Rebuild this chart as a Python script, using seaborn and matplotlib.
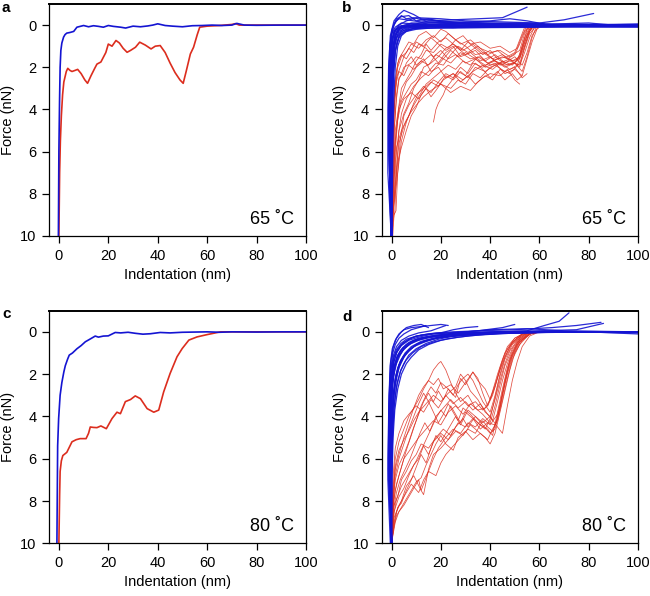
import matplotlib
matplotlib.use("Agg")
import matplotlib.pyplot as plt
import seaborn as sns
import pandas as pd

# ---------------- data ----------------
# panel a (65 C, single curves)
a_blue_x = [-0.2, 0, 0.27, 0.5, 0.8, 1.2, 1.9, 2.5, 3.2, 4.5, 6, 7.3, 9, 10, 12, 14, 16, 18, 20, 22,
            25, 27, 30, 33, 36, 38, 40, 43, 46, 50, 54, 58, 62, 66, 70, 72, 75, 80, 90, 100]
a_blue_y = [10, 6, 3.6, 2.0, 1.2, 0.85, 0.57, 0.45, 0.38, 0.35, 0.3, 0.1, 0.05, 0.02, 0.08, 0.03, 0.06, 0.1, 0.02, 0.06,
            0.1, 0.14, 0.05, 0.08, 0.04, 0.0, -0.06, 0.02, 0.05, 0.08, 0.03, 0.02, 0.0, 0.02, 0.0, -0.08, 0.0, 0.01, 0.0, 0.0]
a_red_x = [0, 0.3, 0.6, 1, 1.5, 2, 3, 3.6, 4.5, 5.3, 6.5, 7.6, 9, 10.5, 11.6, 13, 14.5, 15.4, 17, 19,
           20, 21.5, 23.1, 24.5, 26, 27.6, 29, 31, 32.7, 35, 37.3, 39, 41, 43, 45, 47, 49, 50.3, 51.5, 53.2,
           54.5, 56, 57, 60, 65, 70, 71.5, 73, 80, 100]
a_red_y = [10, 7, 5.5, 4.3, 3.3, 2.7, 2.2, 2.05, 2.15, 2.2, 2.15, 2.1, 2.3, 2.6, 2.76, 2.4, 2.05, 1.85, 1.75, 1.3,
           0.9, 1.0, 0.73, 0.85, 1.1, 1.29, 1.2, 1.05, 0.81, 0.95, 1.13, 1.0, 0.97, 1.3, 1.8, 2.25, 2.6, 2.76, 2.2, 1.37,
           1.05, 0.45, 0.1, 0.05, 0.02, -0.03, -0.07, 0.0, 0.0, 0.0]

# panel c (80 C, single curves)
c_blue_x = [-0.8, -0.5, -0.1, 0.5, 1.2, 2, 2.6, 3.5, 4.2, 5.5, 7.3, 9, 10.7, 12.5, 14.7, 16, 18, 20, 22.8, 25,
            28, 31, 34, 37, 41, 45, 50, 55, 60, 65, 70, 80, 90, 100]
c_blue_y = [10, 5.4, 4.1, 3.0, 2.4, 1.9, 1.6, 1.3, 1.1, 1.0, 0.8, 0.65, 0.47, 0.35, 0.2, 0.25, 0.2, 0.19, 0.03, 0.05,
            0.02, 0.07, 0.11, 0.09, 0.03, 0.05, 0.02, 0.01, 0.0, 0.02, 0.0, 0.01, 0.0, 0.0]
c_red_x = [0, 0.3, 0.5, 1, 1.6, 3.2, 5.3, 7, 8.6, 11, 12, 12.7, 14, 15.4, 17, 19.2, 21.5, 23.5, 24.9, 26.9,
           29, 30.9, 33, 35.7, 38.4, 40.4, 42.4, 45, 47.8, 49.9, 52.6, 55.9, 60, 65.4, 70, 80, 100]
c_red_y = [10, 7.7, 6.6, 6.1, 5.85, 5.7, 5.2, 5.1, 5.05, 5.05, 4.8, 4.5, 4.52, 4.53, 4.45, 4.58, 4.1, 3.8, 3.87, 3.3,
           3.2, 3.03, 3.16, 3.63, 3.8, 3.7, 2.84, 1.97, 1.18, 0.79, 0.39, 0.24, 0.13, 0.0, 0.0, 0.0, 0.0]

# panel b (65 C, all curves) as (indentation, force) points
b_blue_curves = [
    [(0, 10), (-0.5, 6), (-0.6, 3), (-0.3, 1.5), (0.5, 0.6), (2, 0.2), (5, 0.05), (15, 0.0), (30, 0.05), (50, 0.0), (70, 0.02), (100, 0.0)],
    [(-0.2, 10), (-1.0, 6), (-1.2, 3), (-0.8, 1.2), (0, 0.4), (1.5, 0.1), (4, -0.1), (10, -0.05), (25, 0.0), (45, -0.05), (60, 0.0), (100, 0.02)],
    [(0.1, 10), (0.2, 6), (0.4, 3), (1.0, 1.2), (2, 0.6), (4, 0.3), (7, 0.15), (12, 0.1), (20, 0.05), (40, 0.08), (60, 0.02), (100, 0.05)],
    [(-0.1, 10), (-1.5, 7), (-1.5, 4), (-1.2, 2), (-0.5, 0.5), (1, -0.2), (3, -0.5), (5, -0.7), (7, -0.6), (9, -0.5), (12, -0.3), (20, -0.2), (30, -0.1)],
    [(0, 10), (-0.3, 5), (0, 2.5), (0.8, 1.0), (2, 0.4), (4, 0.1), (8, 0.0), (15, -0.2), (25, -0.25), (35, -0.3), (45, -0.35), (55, -0.85)],
    [(0, 10), (-0.8, 5), (-0.6, 2.5), (0, 1.0), (1, 0.3), (3, 0.0), (6, -0.2), (10, -0.35), (20, -0.3), (30, -0.2), (45, -0.15), (60, -0.1), (70, -0.25), (82, -0.55)],
    [(0, 10), (0.3, 5), (0.6, 2.5), (1.5, 1.2), (3, 0.6), (5, 0.35), (8, 0.2), (15, 0.1), (30, 0.1), (50, 0.1), (80, 0.05), (100, 0.05)],
    [(-0.3, 10), (-0.9, 6), (-0.5, 2), (0.3, 0.6), (1.5, 0.2), (4, 0.05), (10, 0.1), (20, -0.05), (35, 0.05), (55, 0.0), (75, 0.0), (100, -0.05)],
    [(0, 10), (-0.2, 7), (0.2, 4), (0.8, 2.2), (1.6, 1.2), (3, 0.5), (5, 0.25), (10, 0.15), (20, 0.15), (40, 0.12), (70, 0.1), (100, 0.1)],
    [(-0.2, 10), (-1.2, 5), (-1.0, 2), (-0.4, 0.8), (0.5, 0.1), (2, -0.3), (4, -0.4), (7, -0.45), (10, -0.2), (15, -0.3), (22, -0.1), (40, -0.2), (48, -0.3), (55, -0.2), (62, -0.05)],
    [(0, 10), (-0.4, 6), (-0.1, 3), (0.5, 1.5), (1.5, 0.7), (3, 0.3), (6, 0.1), (12, 0.05), (25, 0.12), (45, 0.0), (70, 0.05), (100, 0.08)],
    [(0, 10), (-0.6, 5), (-0.4, 2), (0.3, 0.8), (1.2, 0.3), (3, 0.1), (8, -0.1), (18, -0.1), (30, -0.05), (50, -0.1), (65, -0.05), (80, -0.1), (90, 0.0)],
    [(0.2, 10), (0.5, 6), (0.9, 3.5), (1.5, 2), (2.5, 1.0), (4, 0.5), (6, 0.3), (10, 0.2), (20, 0.1), (50, 0.05), (100, 0.0)],
    [(0, 10), (-0.9, 4), (-0.7, 1.5), (0, 0.5), (1, 0.0), (2, -0.2), (4, -0.45), (6, -0.3), (9, -0.35), (14, -0.2), (25, -0.15), (40, -0.1), (60, -0.05), (100, -0.02)],
    [(0, 10), (-0.4, 4), (0.2, 1.6), (1.2, 0.6), (2.5, 0.25), (5, 0.1), (10, 0.0), (30, -0.08), (60, 0.03), (100, 0.0)],
    [(-0.1, 10), (-0.7, 5), (-0.3, 2.8), (0.4, 1.3), (1.5, 0.5), (3, 0.2), (6, 0.05), (15, -0.1), (35, -0.1), (55, 0.0), (100, 0.03)],
    [(0, 10), (-0.3, 6), (-0.2, 3), (0.3, 1.2), (1.2, 0.5), (2.5, 0.2), (5, 0.1), (12, 0.08), (25, 0.02), (45, 0.06), (70, 0.0), (100, 0.04)],
    [(-0.1, 10), (-0.6, 7), (-0.8, 3.5), (-0.5, 1.6), (0.2, 0.7), (1, 0.3), (3, 0.05), (8, -0.05), (20, 0.03), (40, -0.03), (65, 0.02), (100, -0.01)],
    [(0, 10), (0.1, 7), (0.3, 4.5), (0.7, 2.5), (1.3, 1.4), (2.2, 0.8), (3.5, 0.45), (6, 0.25), (10, 0.12), (18, 0.06), (35, 0.1), (60, 0.05), (100, 0.06)],
    [(0, 10), (-1.1, 6), (-1.1, 3), (-0.7, 1.0), (0.2, 0.2), (1.5, -0.15), (3, -0.3), (6, -0.25), (12, -0.15), (25, -0.1), (50, -0.05), (80, 0.0), (100, -0.04)],
    [(0, 10), (-0.2, 6), (0.1, 3.2), (0.6, 1.8), (1.4, 0.9), (2.6, 0.45), (4.5, 0.2), (8, 0.1), (16, 0.0), (30, 0.04), (55, 0.02), (100, 0.02)],
    [(0, 10), (-0.5, 7), (-0.4, 4), (0, 2.2), (0.7, 1.1), (1.8, 0.45), (3.5, 0.15), (7, 0.0), (14, 0.05), (28, -0.05), (50, 0.05), (75, -0.02), (100, 0.01)],
]
b_red_curves = [
    [(0, 10), (0.5, 7), (1, 5), (2, 3.5), (3, 2.6), (5, 2.0), (8, 1.8), (10, 1.5), (12, 1.6), (14, 1.2), (17, 1.3), (20, 0.9), (23, 1.1), (26, 0.7), (30, 1.0), (34, 1.4), (38, 1.3), (42, 1.7), (46, 1.9), (50, 1.8), (52, 1.4), (54, 0.6), (56, 0.1), (60, 0.0)],
    [(0, 10), (0.8, 8), (1.5, 6), (2.5, 4.5), (4, 3.6), (6, 3.2), (8, 2.8), (10, 2.6), (12, 2.2), (15, 2.4), (18, 2.0), (21, 1.6), (24, 1.8), (28, 1.3), (32, 1.6), (36, 1.5), (40, 1.9), (44, 1.8), (48, 2.1), (51, 1.9), (53, 1.2), (55, 0.5), (57, 0.1), (62, 0.0)],
    [(0, 10), (0.4, 6), (1, 3.5), (2, 2.2), (3, 1.6), (5, 1.2), (7, 0.8), (9, 0.9), (11, 0.5), (14, 0.3), (17, 0.6), (20, 0.2), (22, 0.3), (25, 0.6), (28, 0.9), (32, 0.7), (36, 1.1), (40, 1.3), (44, 1.2), (48, 1.5), (52, 1.2), (54, 0.4), (56, 0.0)],
    [(0, 10), (1, 9), (1.8, 8.8), (2.5, 7), (3.5, 5.5), (5, 4.3), (7, 3.8), (10, 3.3), (13, 3.0), (16, 2.7), (19, 2.9), (22, 2.4), (25, 2.6), (28, 2.2), (31, 2.5), (34, 2.0), (38, 2.2), (42, 1.9), (46, 2.2), (50, 2.0), (53, 2.5), (55, 2.3)],
    [(0, 10), (0.6, 7.5), (1.5, 5.5), (3, 4), (5, 3.5), (8, 3.2), (11, 3.5), (14, 3.0), (17, 2.6), (20, 2.8), (24, 3.0), (27, 2.6), (30, 2.8), (33, 2.3), (36, 2.5), (40, 2.0), (44, 1.8), (48, 1.6), (52, 2.0), (54, 1.0), (56, 0.3), (58, 0.0)],
    [(17, 4.6), (18, 4.0), (19, 3.7), (21, 3.3), (22, 3.0), (24, 2.7), (27, 2.2), (30, 2.4), (33, 1.8), (37, 2.0), (41, 1.7), (45, 1.5), (49, 1.7), (52, 1.5), (54, 0.8), (56, 0.2), (59, 0.0)],
    [(0, 10), (0.3, 8), (0.7, 5), (1.2, 3.5), (2, 2.5), (3.5, 2.0), (5, 1.5), (7, 1.1), (9, 1.3), (11, 0.9), (14, 1.1), (17, 1.5), (20, 1.2), (23, 1.6), (26, 1.4), (30, 1.8), (34, 1.6), (38, 1.9), (42, 1.7), (46, 2.0), (50, 1.8), (53, 2.2), (55, 1.5), (57, 0.6), (59, 0.0)],
    [(0, 10), (1, 8), (2, 6), (3, 5), (5, 4.2), (7, 3.7), (9, 3.0), (11, 2.6), (13, 2.0), (16, 1.8), (19, 1.5), (22, 1.1), (25, 0.9), (28, 1.2), (31, 0.8), (34, 1.1), (37, 1.4), (40, 1.2), (43, 1.6), (47, 1.5), (50, 1.3), (52, 0.7), (54, 0.1), (57, 0.0)],
    [(0, 10), (0.5, 7), (1.2, 4.8), (2, 3.3), (3, 2.5), (4.5, 2.3), (6, 1.8), (8, 1.5), (10, 1.9), (13, 1.6), (16, 2.2), (19, 2.0), (22, 2.5), (25, 2.3), (28, 2.7), (31, 2.4), (34, 2.8), (37, 2.5), (40, 2.3), (44, 2.4), (47, 2.1), (50, 2.6), (52, 2.8)],
    [(0, 10), (0.7, 7), (1.5, 5), (3, 3.8), (4, 3.0), (6, 2.6), (8, 2.2), (10, 1.7), (12, 1.4), (14, 0.9), (16, 1.2), (19, 0.8), (22, 0.6), (25, 0.9), (29, 1.2), (33, 0.9), (37, 1.3), (41, 1.6), (45, 1.4), (49, 1.7), (52, 1.6), (54, 1.0), (56, 0.3), (58, 0.0)],
    [(0, 10), (1, 8.5), (2, 7.5), (3, 6.5), (4, 5.5), (6, 4.6), (8, 4.0), (10, 3.6), (12, 3.2), (14, 2.8), (17, 2.5), (20, 2.2), (23, 1.9), (26, 2.1), (29, 1.7), (32, 1.9), (35, 1.5), (39, 1.8), (43, 1.6), (47, 1.9), (51, 1.7), (53, 1.0), (55, 0.2), (58, 0.0)],
    [(0, 10), (0.5, 6.5), (1, 4), (2, 2.7), (3, 2.2), (5, 2.4), (7, 1.9), (9, 2.1), (12, 1.7), (15, 1.9), (18, 1.4), (21, 1.6), (24, 1.2), (27, 1.5), (30, 1.3), (34, 1.6), (38, 2.0), (42, 1.8), (46, 2.3), (50, 2.1), (53, 2.4), (55, 1.6), (57, 0.8), (59, 0.2), (61, 0.0)],
    [(0, 10), (0.8, 7.5), (2, 5.8), (4, 5.0), (6, 4.5), (8, 4.1), (10, 3.8), (13, 3.4), (16, 3.1), (20, 2.8), (24, 3.2), (28, 2.9), (32, 3.1), (35, 2.7), (38, 2.4), (41, 2.6), (44, 2.1), (48, 2.3), (52, 1.8), (54, 1.1), (56, 0.4), (59, 0.0)],
    [(0.5, 10), (1, 9), (1.3, 8.9), (2, 7), (3, 5), (4, 4.2), (6, 3.5), (9, 2.9), (12, 2.5), (15, 2.2), (18, 1.8), (21, 1.9), (24, 1.4), (27, 1.0), (31, 1.3), (35, 1.0), (39, 1.4), (43, 1.2), (47, 1.6), (50, 1.4), (52, 0.9), (54, 0.3), (56, 0.0)],
    [(0, 10), (0.4, 7), (0.9, 4.5), (1.6, 3), (2.5, 2.0), (4, 1.5), (6, 1.3), (8, 0.9), (11, 1.1), (14, 0.7), (17, 0.5), (20, 0.8), (23, 0.4), (26, 0.7), (29, 0.5), (32, 0.9), (36, 0.8), (40, 1.1), (44, 1.0), (48, 1.3), (51, 1.1), (53, 0.5), (55, 0.0)],
    [(0, 10), (1.2, 8), (2.5, 6.5), (4, 5.8), (6, 5.0), (8, 4.3), (10, 3.9), (12, 3.3), (14, 3.0), (16, 3.4), (18, 3.1), (21, 2.6), (25, 2.3), (29, 2.6), (33, 2.2), (37, 1.9), (41, 2.1), (45, 1.7), (49, 1.9), (52, 1.5), (54, 0.7), (56, 0.2), (58, 0.0)],
    [(0, 10), (0.6, 8), (1.2, 6.2), (2, 4.8), (3, 3.9), (4.5, 3.2), (6, 2.7), (8, 2.4), (10, 2.0), (13, 1.7), (16, 1.4), (19, 1.8), (22, 1.3), (26, 1.0), (30, 1.4), (34, 1.2), (38, 1.7), (42, 1.4), (46, 1.8), (50, 1.5), (53, 1.9), (55, 1.3), (57, 0.5), (60, 0.0)],
    [(0, 10), (0.9, 8.5), (1.8, 7), (3, 5.6), (5, 4.8), (7, 4.3), (9, 3.7), (11, 3.2), (13, 2.9), (16, 3.2), (19, 2.7), (22, 2.3), (25, 2.5), (28, 2.0), (31, 2.3), (34, 1.8), (37, 2.1), (40, 2.5), (43, 2.2), (46, 2.6), (49, 2.3), (51, 2.6), (53, 2.4)],
    [(0, 10), (0.3, 6), (0.8, 3.8), (1.5, 2.6), (2.5, 1.8), (4, 1.4), (6, 1.6), (8, 1.2), (10, 0.8), (13, 1.0), (16, 0.6), (19, 0.9), (22, 1.2), (25, 1.0), (28, 1.5), (32, 1.3), (36, 1.7), (40, 1.5), (44, 1.9), (48, 1.7), (52, 1.9), (54, 1.3), (56, 0.6), (58, 0.1), (61, 0.0)],
]

# panel d (80 C, all curves)
d_blue_curves = [
    [(-0.5, 10), (-1.5, 7), (-1.2, 4), (-0.5, 2), (0.5, 1.0), (1.5, 0.6), (3, 0.3), (5, 0.1), (8, -0.1), (11, -0.2), (14, -0.3)],
    [(0, 10), (-1.0, 7), (-0.8, 4), (0, 2.2), (1, 1.4), (2, 1.0), (4, 0.6), (7, 0.35), (10, 0.2), (15, 0.1), (20, 0.05), (25, -0.1), (30, -0.2), (35, -0.25)],
    [(0, 10), (-0.7, 7), (-0.5, 4.5), (0.2, 2.8), (1, 2.0), (2, 1.5), (3.5, 1.1), (5, 0.8), (8, 0.5), (12, 0.3), (18, 0.15), (25, 0.1), (35, 0.05), (50, 0.0), (70, 0.0), (100, 0.0)],
    [(0, 10), (-0.3, 7), (0, 5), (0.6, 3.5), (1.5, 2.5), (3, 1.7), (5, 1.2), (7, 0.9), (10, 0.6), (14, 0.4), (20, 0.25), (30, 0.15), (45, 0.05), (60, 0.0), (100, 0.0)],
    [(0, 10), (-1.2, 6), (-0.9, 3.5), (-0.2, 1.8), (0.8, 1.1), (2, 0.7), (4, 0.4), (7, 0.2), (11, 0.05), (16, -0.05), (22, -0.3)],
    [(0, 10), (0, 7), (0.4, 5), (1, 3.6), (2, 2.6), (3.5, 1.9), (5, 1.5), (7, 1.1), (10, 0.8), (14, 0.55), (19, 0.35), (25, 0.2), (35, 0.1), (50, 0.05), (65, 0.0), (100, 0.0)],
    [(0, 10), (-0.5, 6), (-0.2, 3.8), (0.5, 2.3), (1.5, 1.6), (3, 1.1), (5, 0.8), (8, 0.55), (12, 0.35), (18, 0.2), (26, 0.05), (35, -0.05), (45, -0.2), (50, -0.35)],
    [(0, 10), (-0.8, 6.5), (-0.6, 4), (0, 2.6), (0.8, 1.8), (2, 1.3), (3.5, 0.9), (6, 0.6), (9, 0.4), (14, 0.25), (20, 0.15), (30, 0.05), (40, 0.0), (55, -0.05), (62, -0.3), (68, -0.5), (72, -0.9)],
    [(0, 10), (-0.2, 6.5), (0.2, 4.2), (0.9, 3.0), (2, 2.1), (3.5, 1.5), (5.5, 1.1), (8, 0.8), (11, 0.55), (15, 0.4), (20, 0.25), (28, 0.15), (40, 0.08), (55, 0.02), (75, 0.0), (100, 0.0)],
    [(0, 10), (-0.9, 6), (-0.7, 3.5), (-0.1, 2.0), (1, 1.2), (2.5, 0.8), (5, 0.5), (8, 0.3), (12, 0.15), (18, 0.05), (25, 0.0), (35, -0.05), (50, -0.1), (65, -0.2), (75, -0.3), (85, -0.45)],
    [(0, 10), (-0.4, 7), (-0.1, 4.8), (0.5, 3.2), (1.3, 2.3), (2.5, 1.7), (4, 1.3), (6, 1.0), (9, 0.7), (13, 0.5), (18, 0.3), (25, 0.2), (35, 0.1), (50, 0.05), (70, 0.02), (100, 0.0)],
    [(0, 10), (-1.3, 6), (-1.0, 3), (-0.3, 1.4), (0.7, 0.7), (2, 0.3), (4, 0.0), (6, -0.2), (9, -0.3), (12, -0.35), (15, -0.2)],
    [(0, 10), (0.2, 7), (0.6, 5), (1.3, 3.7), (2.5, 2.7), (4, 2.0), (6, 1.5), (8, 1.2), (11, 0.85), (15, 0.6), (20, 0.4), (27, 0.25), (38, 0.12), (52, 0.05), (70, 0.0), (100, 0.05)],
    [(0, 10), (-0.6, 6.5), (-0.4, 4.2), (0.3, 2.5), (1.2, 1.6), (2.5, 1.1), (4.5, 0.75), (7, 0.5), (11, 0.3), (16, 0.2), (24, 0.1), (34, 0.05), (45, 0.0), (60, -0.05), (75, -0.1), (86, -0.4)],
    [(0, 10), (-0.1, 6), (0.3, 4), (1, 2.8), (2, 2.0), (3.5, 1.4), (5.5, 1.0), (8, 0.7), (12, 0.45), (17, 0.3), (24, 0.15), (33, 0.08), (45, 0.03), (60, 0.0), (80, 0.0), (100, 0.1)],
    [(0, 10), (-0.8, 5.5), (-0.5, 3.2), (0.2, 2.0), (1, 1.4), (2.2, 0.95), (4, 0.65), (7, 0.4), (11, 0.25), (17, 0.1), (25, 0.05), (40, -0.1), (55, -0.15), (70, -0.05), (100, 0.0)],
    [(0, 10), (-0.6, 6), (-0.3, 3.9), (0.4, 2.4), (1.3, 1.7), (2.7, 1.2), (4.5, 0.9), (7, 0.6), (10, 0.42), (15, 0.28), (22, 0.17), (32, 0.08), (45, 0.03), (65, 0.0), (100, 0.02)],
    [(0, 10), (-0.3, 6.5), (0.0, 4.3), (0.7, 2.9), (1.7, 2.1), (3, 1.55), (4.8, 1.15), (7, 0.85), (10, 0.6), (14, 0.42), (20, 0.27), (30, 0.14), (45, 0.06), (65, 0.02), (100, 0.0)],
    [(0, 10), (-1.0, 6), (-0.8, 3.6), (-0.2, 2.1), (0.7, 1.3), (1.9, 0.85), (3.8, 0.55), (6, 0.35), (10, 0.2), (16, 0.1), (25, 0.03), (40, 0.0), (60, -0.03), (100, 0.0)],
    [(0, 10), (0.1, 6.5), (0.5, 4.5), (1.2, 3.3), (2.3, 2.4), (3.8, 1.8), (5.8, 1.35), (8.5, 1.0), (12, 0.7), (17, 0.48), (23, 0.32), (32, 0.18), (45, 0.08), (60, 0.03), (80, 0.0), (100, 0.0)],
    [(0, 10), (-0.7, 6.2), (-0.5, 4), (0.1, 2.5), (0.9, 1.7), (2.1, 1.2), (4, 0.85), (6.5, 0.6), (10, 0.38), (15, 0.24), (22, 0.14), (32, 0.07), (48, 0.02), (70, 0.0), (100, 0.0)],
    [(0, 10), (-1.4, 6.5), (-1.1, 3.4), (-0.6, 1.6), (0.3, 0.8), (1.5, 0.4), (3, 0.1), (5, -0.1), (8, -0.2), (12, -0.25), (16, -0.3), (20, -0.35), (23, -0.3)],
]
d_red_curves = [
    [(0, 10), (0.5, 8.5), (1.5, 7.5), (3, 6.8), (5, 6.0), (8, 5.5), (11, 5.0), (14, 4.6), (17, 4.2), (20, 4.4), (23, 3.8), (26, 3.5), (29, 3.9), (32, 3.4), (35, 3.7), (38, 3.6), (40, 3.2), (42, 2.5), (44, 1.8), (46, 1.2), (48, 0.7), (51, 0.3), (55, 0.05), (60, 0.0)],
    [(0, 10), (1, 8.2), (2.5, 7.8), (4, 7.0), (6, 6.6), (8, 6.1), (10, 5.8), (12, 5.3), (15, 5.5), (18, 5.0), (21, 4.6), (24, 4.9), (27, 4.3), (30, 4.5), (33, 4.1), (36, 4.4), (39, 4.6), (41, 4.9), (43, 3.8), (45, 2.7), (47, 1.7), (49, 1.0), (52, 0.4), (56, 0.1), (60, 0.0)],
    [(0, 10), (0.5, 7.5), (1.5, 6), (3, 5.2), (5, 4.6), (7, 4.0), (9, 3.6), (11, 3.2), (13, 2.7), (15, 2.3), (17, 1.8), (19, 1.5), (20, 1.4), (22, 1.8), (24, 2.4), (26, 2.9), (28, 3.3), (31, 3.0), (34, 3.6), (37, 3.9), (40, 4.3), (42, 3.5), (44, 2.5), (46, 1.6), (49, 0.8), (52, 0.3), (56, 0.0)],
    [(0, 10), (1, 8.8), (3, 8.2), (5, 7.8), (8, 7.2), (11, 7.6), (13, 7.0), (15, 6.6), (18, 6.8), (20, 6.2), (22, 5.8), (25, 5.4), (28, 5.0), (31, 4.6), (34, 4.8), (37, 4.2), (39, 4.5), (41, 4.7), (43, 4.1), (45, 3.0), (47, 2.0), (49, 1.2), (52, 0.5), (56, 0.1), (60, 0.0)],
    [(0, 10), (0.8, 8), (2, 7.2), (4, 6.4), (6, 5.6), (8, 4.9), (10, 4.2), (12, 3.5), (14, 3.0), (16, 2.6), (18, 2.9), (20, 2.4), (23, 2.7), (26, 3.1), (28, 2.2), (30, 2.5), (33, 1.9), (35, 2.3), (38, 2.7), (40, 3.2), (42, 2.6), (44, 1.7), (46, 1.0), (49, 0.5), (53, 0.1), (57, 0.0)],
    [(0, 10), (1, 9), (2, 8.5), (4, 8.0), (6, 7.3), (9, 6.8), (12, 7.5), (13, 7.7), (15, 6.5), (17, 5.8), (20, 5.5), (23, 5.1), (26, 4.7), (29, 4.9), (32, 4.4), (35, 4.7), (38, 5.0), (40, 5.3), (42, 4.8), (44, 3.8), (46, 2.8), (48, 1.8), (50, 1.0), (53, 0.4), (57, 0.05), (62, 0.0)],
    [(0, 10), (0.5, 7), (1.5, 5.5), (3, 4.8), (5, 4.2), (7, 3.9), (10, 3.5), (13, 3.8), (16, 3.2), (19, 3.6), (22, 3.0), (25, 3.4), (28, 3.1), (31, 3.5), (34, 3.3), (37, 3.7), (39, 3.5), (41, 2.8), (43, 2.0), (45, 1.3), (47, 0.7), (50, 0.3), (54, 0.05), (58, 0.0)],
    [(0, 10), (1, 8.6), (2, 7.9), (4, 7.3), (6, 6.9), (8, 6.5), (10, 6.1), (12, 5.6), (14, 5.1), (16, 4.6), (18, 4.1), (20, 3.7), (22, 4.0), (24, 3.5), (26, 3.9), (28, 4.3), (30, 3.8), (33, 4.1), (36, 4.6), (39, 4.3), (42, 4.4), (44, 3.6), (46, 2.4), (48, 1.4), (51, 0.6), (55, 0.15), (60, 0.0)],
    [(0, 10), (0.7, 8), (1.5, 7), (3, 6.3), (5, 5.8), (7, 5.2), (9, 4.5), (11, 3.9), (13, 3.3), (15, 2.9), (17, 3.3), (19, 2.8), (21, 3.2), (23, 2.7), (25, 3.0), (27, 2.5), (29, 2.2), (31, 2.0), (33, 2.3), (35, 2.8), (37, 3.3), (40, 3.8), (42, 3.0), (44, 2.0), (46, 1.2), (49, 0.5), (53, 0.1), (58, 0.0)],
    [(0, 10), (1.2, 9), (2.5, 8.3), (4, 8.1), (6, 7.5), (8, 7.0), (10, 6.4), (12, 5.8), (14, 6.2), (16, 5.5), (18, 4.9), (20, 5.2), (23, 4.6), (26, 4.0), (28, 4.4), (31, 3.7), (34, 4.0), (37, 4.4), (40, 4.8), (42, 4.6), (44, 3.5), (46, 2.3), (48, 1.3), (51, 0.5), (55, 0.1), (60, 0.0)],
    [(0, 10), (0.5, 8.2), (1.5, 6.8), (3, 6.0), (5, 5.3), (7, 4.6), (9, 4.0), (11, 3.4), (13, 2.9), (15, 3.3), (17, 3.8), (19, 4.3), (21, 3.9), (23, 3.4), (25, 3.8), (27, 4.2), (29, 3.6), (32, 3.9), (35, 4.3), (38, 4.6), (40, 4.1), (42, 3.1), (44, 2.1), (46, 1.3), (49, 0.6), (53, 0.15), (57, 0.0)],
    [(0, 10), (1, 8.5), (3, 7.8), (5, 7.4), (7, 6.8), (9, 6.3), (11, 6.0), (13, 5.4), (15, 5.8), (17, 5.2), (20, 4.8), (23, 5.1), (26, 4.5), (29, 4.1), (31, 4.5), (34, 4.0), (37, 4.3), (40, 4.0), (43, 4.5), (45, 4.8), (47, 3.5), (49, 2.3), (51, 1.4), (53, 0.7), (56, 0.2), (60, 0.0)],
    [(0, 10), (0.6, 7.8), (1.5, 6.5), (3, 5.8), (5, 5.0), (7, 4.3), (9, 3.6), (11, 3.0), (13, 2.6), (15, 2.3), (17, 2.5), (19, 2.2), (21, 2.7), (24, 2.5), (27, 2.9), (30, 2.4), (33, 1.9), (35, 2.2), (37, 2.9), (39, 3.5), (41, 3.0), (43, 2.2), (45, 1.4), (47, 0.8), (50, 0.3), (54, 0.05), (58, 0.0)],
    [(0, 10), (1, 9.2), (2, 8.7), (4, 8.3), (6, 7.9), (8, 7.5), (10, 7.1), (12, 6.9), (14, 6.3), (16, 5.8), (18, 5.3), (20, 4.9), (22, 5.3), (25, 5.6), (27, 5.0), (30, 4.7), (33, 5.1), (36, 4.8), (39, 5.1), (41, 4.6), (43, 4.2), (45, 3.2), (47, 2.2), (49, 1.3), (52, 0.6), (56, 0.1), (60, 0.0)],
    [(0, 10), (0.8, 8.4), (2, 7.6), (3.5, 7.0), (5.5, 6.5), (7.5, 6.0), (9.5, 5.4), (11.5, 4.8), (13.5, 4.3), (15.5, 4.7), (18, 4.0), (21, 3.6), (24, 3.2), (27, 3.6), (30, 3.3), (33, 3.7), (36, 3.4), (39, 3.9), (41, 4.2), (43, 3.3), (45, 2.3), (47, 1.5), (49, 0.9), (52, 0.35), (56, 0.05), (60, 0.0)],
    [(0, 10), (1.5, 9.0), (3, 8.5), (5, 8.2), (7, 7.8), (9, 7.4), (11, 7.0), (12, 7.5), (13, 7.2), (15, 6.6), (17, 6.0), (19, 5.5), (22, 5.0), (25, 4.6), (28, 4.8), (31, 4.3), (34, 4.5), (37, 4.1), (40, 4.4), (43, 3.9), (45, 2.9), (47, 1.9), (49, 1.1), (52, 0.45), (56, 0.1), (60, 0.0)],
    [(0, 10), (0.6, 7.6), (1.6, 6.3), (3, 5.6), (5, 5.1), (7, 4.7), (9, 4.2), (11, 3.8), (14, 3.4), (17, 3.0), (20, 3.3), (23, 2.9), (26, 2.6), (28, 2.0), (30, 2.3), (32, 2.8), (35, 3.2), (38, 3.8), (40, 4.0), (42, 3.2), (44, 2.3), (46, 1.5), (48, 0.9), (51, 0.4), (55, 0.05), (59, 0.0)],
]

panel_letters = ["a", "b", "c", "d"]
temps = ["65 \u02daC", "65 \u02daC", "80 \u02daC", "80 \u02daC"]
x_ticks = [0, 20, 40, 60, 80, 100]
y_ticks = [0, 2, 4, 6, 8, 10]

BLUE = "#1414d2"
RED = "#dc2d1e"

# ---------------- plotting ----------------
sns.set_style("ticks")
plt.rcParams["font.family"] = ["Liberation Sans", "DejaVu Sans"]
plt.rcParams["text.color"] = "black"
plt.rcParams["axes.labelcolor"] = "black"
plt.rcParams["xtick.color"] = "black"
plt.rcParams["ytick.color"] = "black"


def single_df(x, y):
    return pd.DataFrame({"x": x, "y": y})


def multi_df(curves):
    rows = []
    for i, c in enumerate(curves):
        for (xx, yy) in c:
            rows.append((i, xx, yy))
    return pd.DataFrame(rows, columns=["curve", "x", "y"])


fig = plt.figure(figsize=(6.5, 5.96), dpi=100)
W, H = 650.0, 596.0
boxes = [(49, 4, 306, 236), (381.7, 4, 638, 236), (49, 310.7, 306, 543.3), (381.7, 310.7, 638, 543.3)]
axes = []
for (l, t, r, b) in boxes:
    axes.append(fig.add_axes([l / W, 1 - b / H, (r - l) / W, (b - t) / H]))

# a
sns.lineplot(data=single_df(a_red_x, a_red_y), x="x", y="y", sort=False, estimator=None,
             color=RED, lw=1.2, ax=axes[0])
sns.lineplot(data=single_df(a_blue_x, a_blue_y), x="x", y="y", sort=False, estimator=None,
             color=BLUE, lw=1.2, ax=axes[0])
# c
sns.lineplot(data=single_df(c_red_x, c_red_y), x="x", y="y", sort=False, estimator=None,
             color=RED, lw=1.2, ax=axes[2])
sns.lineplot(data=single_df(c_blue_x, c_blue_y), x="x", y="y", sort=False, estimator=None,
             color=BLUE, lw=1.2, ax=axes[2])
# b
sns.lineplot(data=multi_df(b_red_curves), x="x", y="y", units="curve", estimator=None, sort=False,
             color=RED, lw=0.55, alpha=0.85, ax=axes[1])
sns.lineplot(data=multi_df(b_blue_curves), x="x", y="y", units="curve", estimator=None, sort=False,
             color=BLUE, lw=0.9, alpha=0.9, ax=axes[1])
# d
sns.lineplot(data=multi_df(d_red_curves), x="x", y="y", units="curve", estimator=None, sort=False,
             color=RED, lw=0.55, alpha=0.85, ax=axes[3])
sns.lineplot(data=multi_df(d_blue_curves), x="x", y="y", units="curve", estimator=None, sort=False,
             color=BLUE, lw=0.9, alpha=0.9, ax=axes[3])

for i, ax in enumerate(axes):
    ax.set_xlim(-4, 100)
    ax.set_ylim(10, -1)
    ax.set_xticks(x_ticks)
    ax.set_yticks(y_ticks)
    ax.set_xlabel("Indentation (nm)", fontsize=10.5, labelpad=4, color="black")
    ax.set_ylabel("Force (nN)", fontsize=10.5, labelpad=4, color="black")
    ax.tick_params(axis="both", labelsize=10.5, length=5, width=0.9, direction="out", pad=4,
                   top=False, right=False, colors="black")
    for s in ["left", "bottom", "right", "top"]:
        ax.spines[s].set_visible(True)
        ax.spines[s].set_color("black")
        ax.spines[s].set_linewidth(0.9)
    ax.spines["top"].set_linewidth(1.4)
    ax.text(0.955, 0.035, temps[i], transform=ax.transAxes, ha="right", va="bottom",
            fontsize=13, color="black")
    ax.grid(False)

letter_pos = [(2, 1), (342, 1), (2, 307), (342, 310)]
for (px, py), lab in zip(letter_pos, panel_letters):
    fig.text(px / W, 1 - py / H, lab, fontsize=11, fontweight="bold", ha="left", va="top",
             color="black")

fig.savefig("out.png", dpi=100)
